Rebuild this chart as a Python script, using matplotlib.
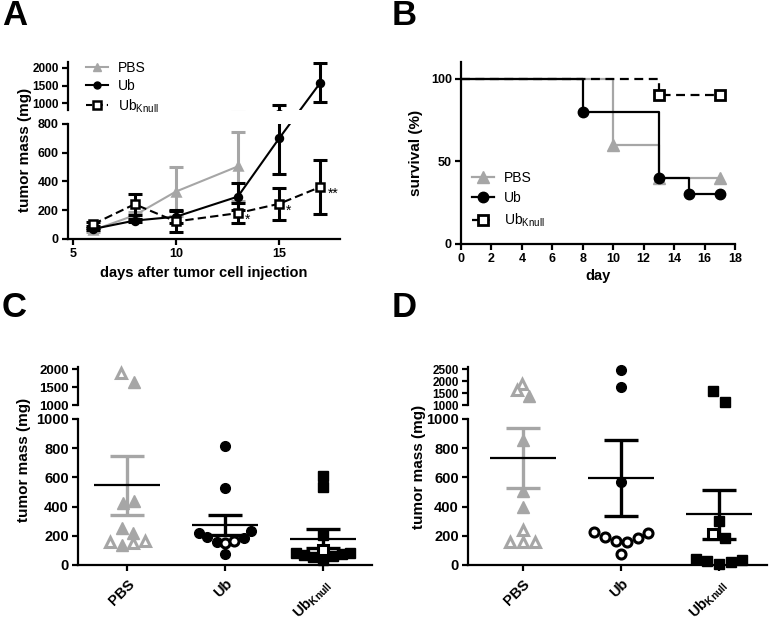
import numpy as np
import matplotlib
matplotlib.use('Agg')
import matplotlib.pyplot as plt
from matplotlib.lines import Line2D

plt.rcParams['font.family'] = 'Liberation Sans'
plt.rcParams['mathtext.fontset'] = 'custom'
plt.rcParams['mathtext.rm'] = 'Liberation Sans'
plt.rcParams['mathtext.bf'] = 'Liberation Sans:bold'
plt.rcParams['mathtext.it'] = 'Liberation Sans:italic'

GRAY = '#a6a6a6'

# --- A: tumour growth (mean +/- SEM)
days_pbs = [6, 8, 10, 13]
mass_pbs = [62, 165, 330, 505]
sem_pbs = [12, 25, 172, 240]
days_ub = [6, 8, 10, 13, 15, 17]
mass_ub = [70, 128, 155, 295, 700, 1580]
sem_ub = [8, 12, 45, 92, 250, 540]
days_ko = [6, 8, 10, 13, 15, 17]
mass_ko = [104, 242, 122, 180, 245, 362]
sem_ko = [15, 72, 76, 72, 112, 190]
stars_ko = ['', '', '', '*', '*', '**']

# --- B: survival
surv_days_pbs = [0, 10, 13, 17]
surv_pbs = [100, 60, 40, 40]
surv_days_ub = [0, 8, 13, 15, 17]
surv_ub = [100, 80, 40, 30, 30]
surv_days_ko = [0, 13, 17]
surv_ko = [100, 90, 90]

# --- C: tumour mass per animal
groups = ['PBS', 'Ub', r'$\mathbf{Ub}_{\mathbf{Knull}}$']
c_pbs = [1890, 1628, 424, 435, 252, 222, 160, 137, 153, 165]
c_pbs_open = [1, 0, 0, 0, 0, 0, 1, 0, 1, 1]
c_ub = [818, 524, 218, 190, 160, 153, 167, 183, 234, 73]
c_ub_open = [0, 0, 0, 0, 0, 1, 1, 0, 0, 0]
c_ko = [612, 531, 206, 80, 70, 55, 100, 35, 60, 72, 82]
c_ko_open = [0, 0, 0, 0, 0, 0, 1, 0, 0, 0, 0]
c_mean = [545, 275, 181]
c_sem = [203, 69, 64]

# --- D: tumour mass per animal
d_pbs = [1888, 1638, 1388, 859, 504, 394, 241, 160, 160, 160]
d_pbs_open = [1, 1, 0, 0, 0, 0, 1, 1, 1, 1]
d_ub = [2471, 1750, 566, 229, 190, 165, 156, 188, 218, 73]
d_ub_open = [0, 0, 0, 1, 1, 1, 1, 1, 1, 1]
d_ko = [1596, 1108, 298, 211, 183, 41, 30, 7, 23, 34]
d_ko_open = [0, 0, 0, 1, 0, 0, 0, 0, 0, 0]
d_mean = [733, 596, 348]
d_sem = [207, 258, 168]

# horizontal spread of the dots inside each column
c_pbs_dx = [-0.06, 0.07, -0.04, 0.07, -0.05, 0.06, -0.17, -0.05, 0.06, 0.18]
c_ub_dx = [0, 0, -0.265, -0.18, -0.085, 0, 0.09, 0.19, 0.27, 0]
c_ko_dx = [0, 0, 0, -0.28, -0.19, -0.1, 0, 0, 0.1, 0.19, 0.28]
d_pbs_dx = [-0.01, -0.06, 0.06, 0, 0, 0, 0, -0.13, 0, 0.12]
d_ub_dx = [0, 0, 0, -0.27, -0.16, -0.05, 0.06, 0.17, 0.28, 0]
d_ko_dx = [-0.06, 0.06, 0, -0.06, 0.06, -0.23, -0.12, 0, 0.12, 0.24]

W, H = 771, 621
fig = plt.figure(figsize=(W / 100, H / 100), dpi=100)


def add_px(x0, y0, x1, y1):
    return fig.add_axes([x0 / W, 1 - y1 / H, (x1 - x0) / W, (y1 - y0) / H])


def style(ax, hi=False):
    ax.spines['top'].set_visible(False)
    ax.spines['right'].set_visible(False)
    ax.spines['left'].set_linewidth(1.6)
    ax.spines['bottom'].set_linewidth(1.6)
    ax.tick_params(direction='out', length=4.5, width=1.6, pad=2)
    if hi:
        ax.spines['bottom'].set_visible(False)
        ax.tick_params(axis='x', bottom=False, labelbottom=False)
    ax.patch.set_visible(False)


def yticks(ax, ticks, fs):
    ax.set_yticks(ticks)
    ax.set_yticklabels([str(t) for t in ticks], fontsize=fs, fontweight='bold')


def broken_line(ax_lo, ax_hi, brk, x, y, **kw):
    # line drawn straight in screen space across the axis break
    pts = np.array([(ax_hi if yi > brk else ax_lo).transData.transform((xi, yi))
                    for xi, yi in zip(x, y)])
    for ax in (ax_lo, ax_hi):
        d = ax.transData.inverted().transform(pts)
        ax.plot(d[:, 0], d[:, 1], **kw)


# ================= A =================
A_lo = add_px(68, 124, 340, 239)
A_hi = add_px(68, 62, 340, 110)
for ax in (A_lo, A_hi):
    ax.set_xlim(4.77, 17.95)
A_lo.set_ylim(0, 800)
A_hi.set_ylim(812, 2160)
style(A_lo)
style(A_hi, hi=True)
A_lo.set_xticks([5, 10, 15])
A_lo.set_xticklabels(['5', '10', '15'], fontsize=9, fontweight='bold')
yticks(A_lo, [0, 200, 400, 600, 800], 9)
yticks(A_hi, [1000, 1500, 2000], 8.5)

series = [
    (days_pbs, mass_pbs, sem_pbs, GRAY, '^', 5.5, GRAY, '-', 1),
    (days_ub, mass_ub, sem_ub, 'black', 'o', 5, 'black', '-', 2),
    (days_ko, mass_ko, sem_ko, 'black', 's', 6, 'white', (0, (4, 2)), 3),
]
for x, y, e, col, mk, ms, mfc, ls, z in series:
    broken_line(A_lo, A_hi, 800, x, y, color=col, lw=1.5, ls=ls, zorder=z)
    for ax in (A_lo, A_hi):
        ax.errorbar(x, y, yerr=e, fmt='none', ecolor=col, elinewidth=2.2,
                    capsize=5.2, capthick=2.2, zorder=z)
        ax.plot(x, y, ls='none', marker=mk, ms=ms, mfc=mfc, mec=col, mew=1.8,
                zorder=z + 0.5)
for x, y, s in zip(days_ko, mass_ko, stars_ko):
    if s:
        A_lo.annotate(s, (x, y), xytext=(5, -5), textcoords='offset points',
                      fontsize=10, ha='left', va='center')

A_lo.set_xlabel('days after tumor cell injection', fontsize=10.5,
                fontweight='bold', labelpad=4)
fig.text(25 / W, 1 - 150 / H, 'tumor mass (mg)', rotation=90, ha='center',
         va='center', fontsize=11, fontweight='bold')

hA = [Line2D([], [], color=GRAY, marker='^', ms=5.5, lw=1.5),
      Line2D([], [], color='black', marker='o', ms=5, lw=1.5),
      Line2D([], [], color='black', marker='s', ms=6, mfc='white', mew=1.8,
             lw=1.5, ls=(0, (3, 2)))]
labs = ['PBS', 'Ub', r'Ub$_{\mathrm{Knull}}$']
A_hi.legend(hA, labs, loc='upper left', bbox_to_anchor=(86 / W, 1 - 61 / H),
            bbox_transform=fig.transFigure, frameon=False, fontsize=10,
            handlelength=1.6, handletextpad=0.7, labelspacing=0.3,
            borderpad=0, borderaxespad=0)

# ================= B =================
B = add_px(461, 62, 735, 244)
B.set_xlim(0, 18)
B.set_ylim(0, 110)
style(B)
B.set_xticks(range(0, 19, 2))
B.set_xticklabels([str(t) for t in range(0, 19, 2)], fontsize=9, fontweight='bold')
yticks(B, [0, 50, 100], 9)
B.step(surv_days_pbs, surv_pbs, where='post', color=GRAY, lw=1.6, zorder=1)
B.plot(surv_days_pbs[1:], surv_pbs[1:], ls='none', marker='^', ms=8, color=GRAY, zorder=1.5)
B.step(surv_days_ko, surv_ko, where='post', color='black', lw=1.6, ls=(0, (4, 2.5)), zorder=2)
B.plot(surv_days_ko[1:], surv_ko[1:], ls='none', marker='s', ms=7.5, mfc='white',
       mec='black', mew=2, zorder=2.5)
B.step(surv_days_ub, surv_ub, where='post', color='black', lw=1.6, zorder=3)
B.plot(surv_days_ub[1:], surv_ub[1:], ls='none', marker='o', ms=7.5, color='black', zorder=3.5)
B.set_xlabel('day', fontsize=10.5, fontweight='bold', labelpad=3)
B.set_ylabel('survival (%)', fontsize=11, fontweight='bold', labelpad=6)
hB = [Line2D([], [], color=GRAY, marker='^', ms=8, lw=1.6),
      Line2D([], [], color='black', marker='o', ms=7.5, lw=1.6),
      Line2D([], [], color='black', marker='s', ms=7.5, mfc='white', mew=2,
             lw=1.6, ls=(0, (3, 2)))]
B.legend(hB, labs, loc='upper left', bbox_to_anchor=(472 / W, 1 - 171 / H),
         bbox_transform=fig.transFigure, frameon=False, fontsize=10,
         handlelength=1.6, handletextpad=0.7, labelspacing=0.45,
         borderpad=0, borderaxespad=0)


# ================= C / D =================
def dot_panel(lo, hi, xlim, hi_lim, hi_ticks, hi_fs, data, means, sems, ylabel_xy):
    for ax in (lo, hi):
        ax.set_xlim(*xlim)
    lo.set_ylim(0, 1000)
    hi.set_ylim(*hi_lim)
    style(lo)
    style(hi, hi=True)
    yticks(lo, [0, 200, 400, 600, 800, 1000], 10.5)
    yticks(hi, hi_ticks, hi_fs)
    lo.set_xticks([0, 1, 2])
    lo.set_xticklabels(groups, rotation=45, ha='right', rotation_mode='anchor',
                       fontsize=10.5, fontweight='bold')
    lo.tick_params(axis='x', pad=4)
    cols = [GRAY, 'black', 'black']
    for i, (vals, dx, hollow, mk, ms) in enumerate(data):
        x = i + np.array(dx)
        v = np.array(vals)
        h = np.array(hollow, bool)
        lo.errorbar([i], [means[i]], yerr=[sems[i]], fmt='none', ecolor=cols[i],
                    elinewidth=2.4, capsize=12.5, capthick=2.4, zorder=2)
        lo.hlines(means[i], i - 0.34, i + 0.34, color='black', lw=1.6, zorder=3)
        up = v > 1000
        for ax, sel in ((lo, ~up), (hi, up)):
            f = sel & ~h
            o = sel & h
            ax.plot(x[f], v[f], ls='none', marker=mk, ms=ms, mfc=cols[i],
                    mec=cols[i], zorder=4, clip_on=False)
            ax.plot(x[o], v[o], ls='none', marker=mk, ms=ms - 0.5, mfc='white',
                    mec=cols[i], mew=2.2, zorder=4, clip_on=False)
    fig.text(ylabel_xy[0] / W, 1 - ylabel_xy[1] / H, 'tumor mass (mg)', rotation=90,
             ha='center', va='center', fontsize=11, fontweight='bold')


C_lo = add_px(78, 419, 372, 565)
C_hi = add_px(78, 367, 372, 405)
dot_panel(C_lo, C_hi, (-0.5, 2.5), (1000, 2060), [1000, 1500, 2000], 9.5,
          [(c_pbs, c_pbs_dx, c_pbs_open, '^', 8),
           (c_ub, c_ub_dx, c_ub_open, 'o', 7),
           (c_ko, c_ko_dx, c_ko_open, 's', 7)],
          c_mean, c_sem, (24, 460))

D_lo = add_px(468, 419, 767, 565)
D_hi = add_px(468, 367, 767, 405)
dot_panel(D_lo, D_hi, (-0.56, 2.49), (1000, 2600), [1000, 1500, 2000, 2500], 8.5,
          [(d_pbs, d_pbs_dx, d_pbs_open, '^', 8),
           (d_ub, d_ub_dx, d_ub_open, 'o', 7),
           (d_ko, d_ko_dx, d_ko_open, 's', 7)],
          d_mean, d_sem, (419, 467))

# panel letters
for lab, x, y in [('A', 2, -1), ('B', 392, -1), ('C', 2, 291), ('D', 392, 291)]:
    fig.text(x / W, 1 - y / H, lab, ha='left', va='top', fontsize=25,
             fontweight='bold')

fig.savefig('out.png', dpi=100)
